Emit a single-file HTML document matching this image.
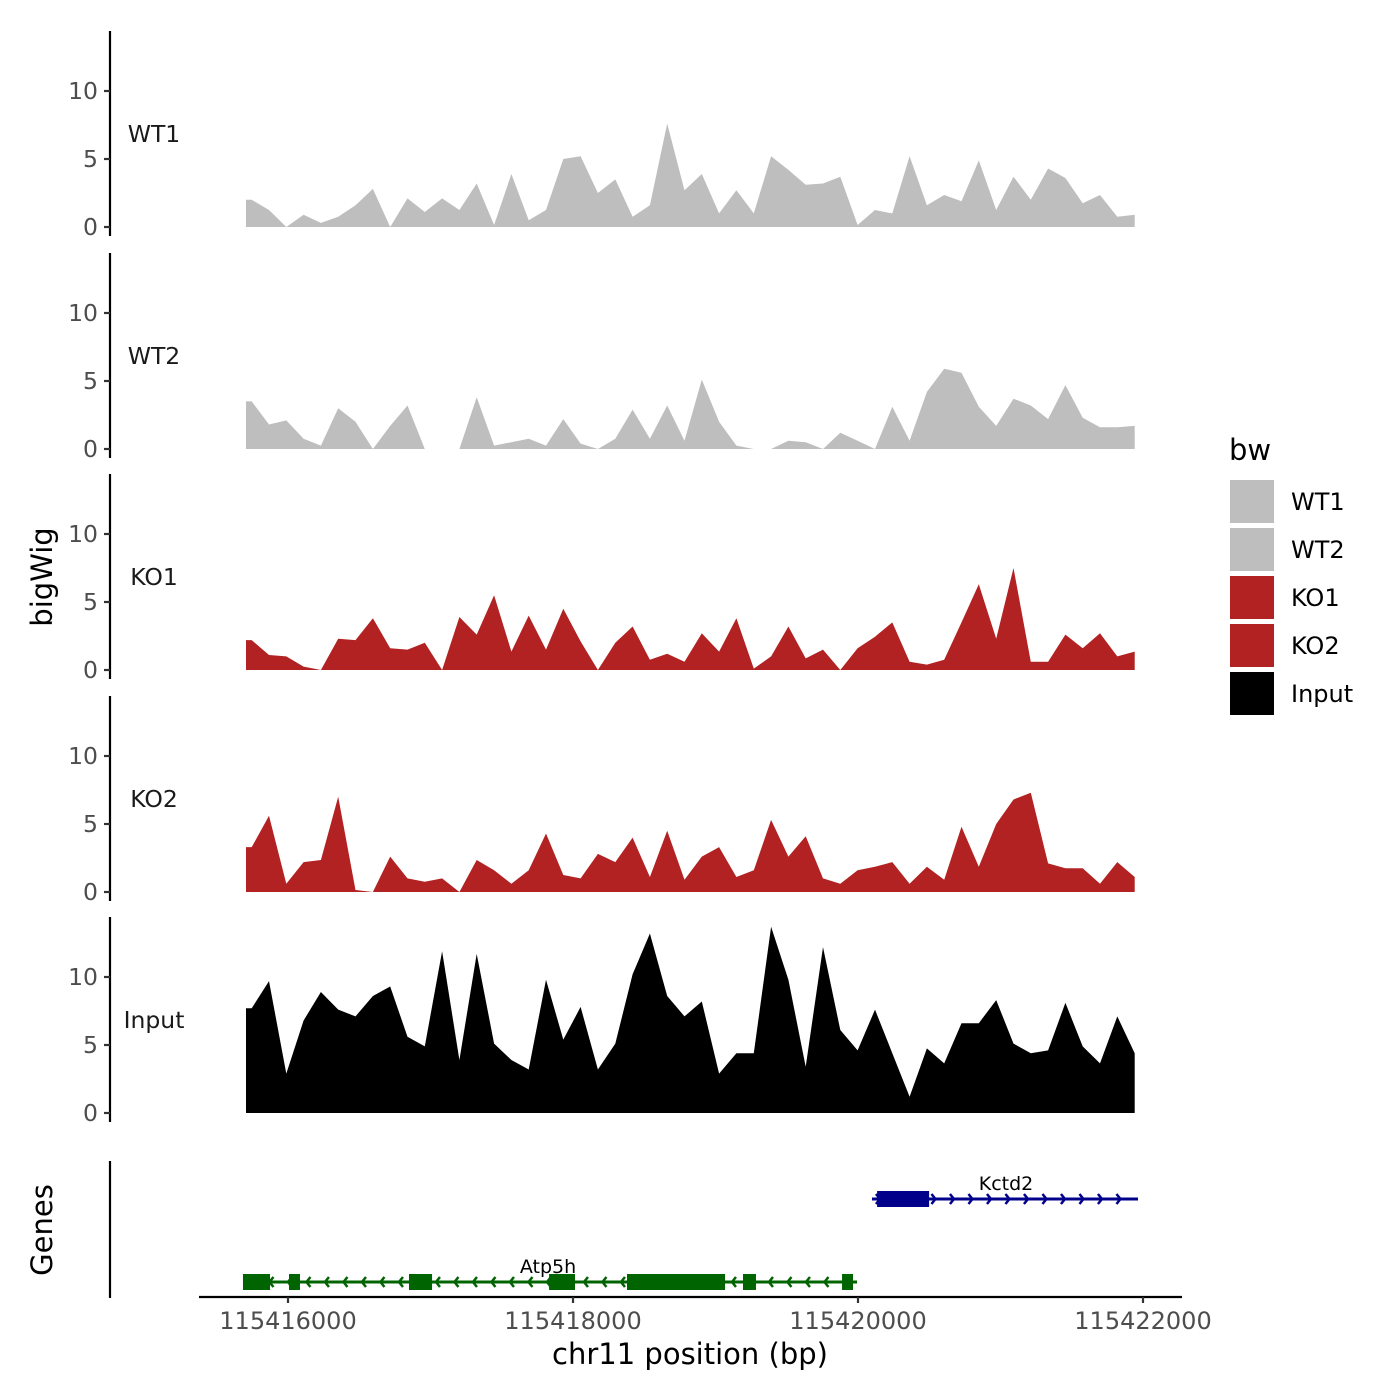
<!DOCTYPE html>
<html><head><meta charset="utf-8"><style>
html,body{margin:0;padding:0;background:#fff;}
svg{display:block;font-family:"DejaVu Sans","Liberation Sans",sans-serif;}
</style></head><body>
<svg id="chart" width="1400" height="1400" viewBox="0 0 1400 1400"></svg>
<script>
const trackNames = ["WT1","WT2","KO1","KO2","Input"];
const trackColors = ["#bebebe","#bebebe","#b22222","#b22222","#000000"];
const trackStart = 115415705;
const posStart = 115415745;
const posStep = 121.5;
const wt1Values = [2.0,1.25,0,0.9,0.3,0.75,1.6,2.8,0,2.1,1.1,2.1,1.25,3.2,0.15,3.9,0.5,1.25,5.0,5.2,2.5,3.5,0.75,1.6,7.6,2.7,3.9,1.0,2.7,1.0,5.2,4.2,3.1,3.2,3.7,0.15,1.25,1.0,5.2,1.6,2.35,1.9,4.9,1.25,3.7,2.0,4.3,3.6,1.75,2.35,0.75,0.9];
const wt2Values = [3.5,1.8,2.1,0.75,0.25,3.0,2.0,0,1.7,3.2,0,0,0,3.8,0.25,0.5,0.75,0.25,2.2,0.4,0,0.75,2.9,0.75,3.2,0.6,5.1,2.0,0.25,0,0,0.6,0.5,0,1.2,0.6,0,3.1,0.6,4.2,5.9,5.6,3.1,1.7,3.7,3.2,2.2,4.7,2.3,1.6,1.6,1.7];
const ko1Values = [2.2,1.1,1.0,0.25,0,2.3,2.2,3.8,1.6,1.5,2.0,0,3.9,2.6,5.5,1.35,4.0,1.5,4.5,2.1,0,2.0,3.2,0.75,1.2,0.6,2.7,1.35,3.8,0.1,1.0,3.2,0.85,1.5,0,1.6,2.45,3.5,0.6,0.4,0.75,3.5,6.3,2.3,7.5,0.6,0.6,2.6,1.6,2.7,1.0,1.35];
const ko2Values = [3.3,5.6,0.6,2.2,2.35,7.0,0.15,0,2.6,1.0,0.75,1.0,0,2.35,1.6,0.6,1.6,4.3,1.25,1.0,2.8,2.2,4.0,1.1,4.5,0.9,2.6,3.3,1.1,1.6,5.3,2.6,4.1,1.0,0.6,1.6,1.85,2.2,0.6,1.85,0.9,4.8,1.85,5.0,6.8,7.3,2.1,1.75,1.75,0.6,2.2,1.1];
const inputValues = [7.7,9.7,2.9,6.8,8.9,7.6,7.1,8.6,9.3,5.6,4.9,11.9,3.9,11.7,5.1,3.9,3.2,9.8,5.4,7.8,3.2,5.1,10.2,13.2,8.6,7.1,8.2,2.9,4.4,4.4,13.7,9.8,3.4,12.2,6.1,4.6,7.6,4.4,1.2,4.75,3.65,6.6,6.6,8.3,5.1,4.4,4.6,8.1,4.9,3.65,7.1,4.4];
const yTicks = [0,5,10];
const xTicks = [115416000,115418000,115420000,115422000];
const atp5hExons = [[115415684,115415874],[115416007,115416084],[115416849,115417011],[115417832,115418014],[115418379,115419067],[115419193,115419284],[115419888,115419965]];
const atp5hSpan = [115415684,115419993];
const kctd2Exons = [[115420134,115420499]];
const kctd2Span = [115420098,115421965];

const NS="http://www.w3.org/2000/svg";
const svg=document.getElementById('chart');
function mk(t,a,p){const e=document.createElementNS(NS,t);for(const k in a)e.setAttribute(k,a[k]);(p||svg).appendChild(e);return e;}
const xScale=bp=>288+(bp-115416000)*0.1425;
const zeroY=[227,449,670,892,1113];
const unitPx=13.6;
const allValues=[wt1Values,wt2Values,ko1Values,ko2Values,inputValues];

allValues.forEach((vals,k)=>{
  const z=zeroY[k];
  const g=mk('g',{});
  
  
  let d='M'+xScale(trackStart).toFixed(1)+','+z+' L'+xScale(trackStart).toFixed(1)+','+(z-vals[0]*unitPx).toFixed(1);
  vals.forEach((v,i)=>{d+=' L'+xScale(posStart+i*posStep).toFixed(1)+','+(z-v*unitPx).toFixed(1);});
  d+=' L'+xScale(posStart+(vals.length-1)*posStep).toFixed(1)+','+z+' Z';
  const p=mk('path',{d:d,fill:trackColors[k]},g);
  
  
  const ax=mk('line',{x1:110,x2:110,y1:z-196,y2:z+9,stroke:'#000','stroke-width':2.2},g);
  
  
  yTicks.forEach(t=>{
    const y=z-t*unitPx;
    const tk=mk('line',{x1:104,x2:110,y1:y,y2:y,stroke:'#333','stroke-width':2.2},g);
    
    
    const tl=mk('text',{x:98,y:y+8,'text-anchor':'end','font-size':23.5,fill:'#4d4d4d'},g);
    tl.textContent=t;
    
    
  });
  const lb=mk('text',{x:154,y:z-85,'text-anchor':'middle','font-size':23.5,fill:'#1a1a1a'},g);
  lb.textContent=trackNames[k];
  
  
});

// genes panel
const ga=mk('line',{x1:110,x2:110,y1:1161,y2:1298,stroke:'#000','stroke-width':2.2});


function drawGene(name,span,exons,y,color,dir,labelX){
  const g=mk('g',{});
  
  
  const x1=xScale(span[0]),x2=xScale(span[1]);
  mk('line',{x1:x1,x2:x2,y1:y,y2:y,stroke:color,'stroke-width':3},g);
  for(let x=x1+8;x<x2-2;x+=18.5){
    const s=dir>0?-1:1;
    mk('polyline',{points:(x+s*4)+','+(y-5)+' '+x+','+y+' '+(x+s*4)+','+(y+5),fill:'none',stroke:color,'stroke-width':2.5},g);
  }
  exons.forEach(e=>{
    const r=mk('rect',{x:xScale(e[0]),y:y-8,width:xScale(e[1])-xScale(e[0]),height:16,fill:color},g);
    
    
  });
  const t=mk('text',{x:labelX,y:y-9,'text-anchor':'middle','font-size':19,fill:'#000'},g);
  t.textContent=name;
  
  
}
drawGene('Kctd2',kctd2Span,kctd2Exons,1199,'#00008b',1,1006);
drawGene('Atp5h',atp5hSpan,atp5hExons,1282,'#006400',-1,548);

// x axis
const xa=mk('line',{x1:199,x2:1182,y1:1297,y2:1297,stroke:'#000','stroke-width':2.2});


xTicks.forEach(t=>{
  const x=xScale(t);
  const tk=mk('line',{x1:x,x2:x,y1:1297,y2:1303,stroke:'#333','stroke-width':2.2});
  
  
  const tl=mk('text',{x:x,y:1329,'text-anchor':'middle','font-size':24,fill:'#4d4d4d'});
  tl.textContent=t;
  
  
});
const xt=mk('text',{x:690,y:1364,'text-anchor':'middle','font-size':29,fill:'#000'});
xt.textContent='chr11 position (bp)';


const yt=mk('text',{x:52,y:577,'text-anchor':'middle','font-size':29,fill:'#000',transform:'rotate(-90 52 577)'});
yt.textContent='bigWig';


const gt=mk('text',{x:52,y:1230,'text-anchor':'middle','font-size':29,fill:'#000',transform:'rotate(-90 52 1230)'});
gt.textContent='Genes';



// legend
const lg=mk('g',{});


const lt=mk('text',{x:1229,y:460,'font-size':29,fill:'#000'},lg);
lt.textContent='bw';


trackNames.forEach((n,i)=>{
  const y=480+i*48;
  const r=mk('rect',{x:1230,y:y,width:44,height:43,fill:trackColors[i]},lg);
  
  
  const t=mk('text',{x:1291,y:y+30,'font-size':24,fill:'#000'},lg);
  t.textContent=n;
  
  
});
</script>
</body></html>
